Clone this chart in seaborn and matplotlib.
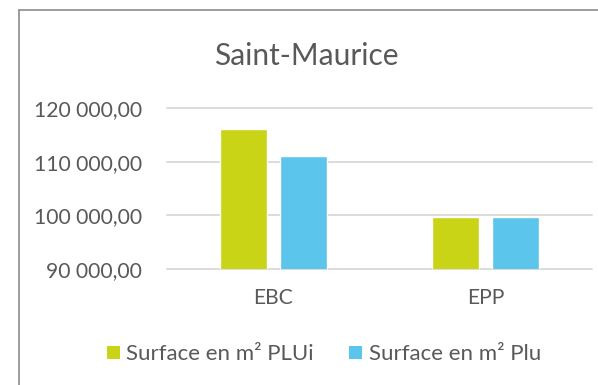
import matplotlib
matplotlib.use("Agg")
import matplotlib.pyplot as plt
from matplotlib.lines import Line2D
from matplotlib.patches import Patch
import pandas as pd
import seaborn as sns

# Data
categories = ["EBC", "EPP"]
series_names = ["Surface en m² PLUi", "Surface en m² Plu"]
plui_values = [116000, 99700]
plu_values = [111000, 99700]
y_ticks = [90000, 100000, 110000, 120000]
y_tick_labels = ["90 000,00", "100 000,00", "110 000,00", "120 000,00"]
title = "Saint-Maurice"

colors = ["#C9D416", "#5BC5EC"]
text_color = "#595959"

df = pd.DataFrame({
    "categorie": categories * 2,
    "serie": [series_names[0]] * len(categories) + [series_names[1]] * len(categories),
    "surface": plui_values + plu_values,
})

sns.set_theme(style="white")
plt.rcParams["font.family"] = ["Lato", "DejaVu Sans"]

W, H = 598, 385
fig = plt.figure(figsize=(W / 100, H / 100), dpi=100)
ax = fig.add_axes([167 / W, 1 - 269 / H, 425 / W, 161 / H])

sns.barplot(data=df, x="categorie", y="surface", hue="serie",
            palette=colors, width=0.566, gap=0.22, saturation=1,
            legend=False, ax=ax, zorder=3)

ax.set_xlim(-0.5, 1.5)
ax.set_ylim(y_ticks[0], y_ticks[-1])
ax.set_yticks(y_ticks)
ax.set_yticklabels(y_tick_labels)
ax.set_xlabel("")
ax.set_ylabel("")

for y in y_ticks:
    ax.axhline(y, color="#D9D9D9", lw=1.3, zorder=1, clip_on=False)

for s in ax.spines.values():
    s.set_visible(False)
ax.tick_params(axis="y", length=0, pad=18, labelsize=15.2, labelcolor=text_color)
ax.tick_params(axis="x", length=0, pad=14, labelsize=15.2, labelcolor=text_color)

fig.text(306 / W, 1 - 65 / H, title, ha="center", va="baseline",
         fontsize=21.5, color=text_color)

handles = [Patch(facecolor=c, edgecolor="none") for c in colors]
fig.legend(handles, series_names, loc="center", bbox_to_anchor=(324 / W, 1 - 354.5 / H),
           ncol=2, frameon=False, fontsize=16, labelcolor=text_color,
           handlelength=0.57, handleheight=0.57, handletextpad=0.3,
           columnspacing=1.6, borderpad=0)

# chart frame
fig.add_artist(Line2D([18.5 / W, 18.5 / W], [0, 1 - 9.5 / H], color="#8C8C8C", lw=1.2))
fig.add_artist(Line2D([18.5 / W, 1], [1 - 9.5 / H, 1 - 9.5 / H], color="#8C8C8C", lw=1.2))

fig.savefig("out.png", dpi=100)
